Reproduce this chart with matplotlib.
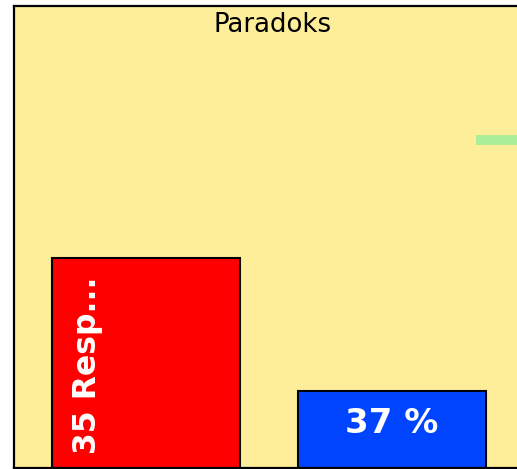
import matplotlib
matplotlib.use("Agg")
import matplotlib.pyplot as plt

categories = ["A", "B"]
values = [45.5, 16.7]
labels = ["35 Resp...", "37 %"]
bar_colors = ["#FF0000", "#0044FF"]
target_value = 71.0
title = "Paradoks"

W, H = 517, 469
fig = plt.figure(figsize=(W / 100, H / 100), dpi=100)
fig.patch.set_facecolor("white")

ax_left, ax_right, ax_top, ax_bottom = 14, 532, 6, 468
ax = fig.add_axes([ax_left / W, (H - ax_bottom) / H,
                   (ax_right - ax_left) / W, (ax_bottom - ax_top) / H])
ax.set_facecolor("#FFEE99")
for s in ax.spines.values():
    s.set_linewidth(1.6)
    s.set_color("black")

unit = 246.0
x0 = -(146 - ax_left) / unit
ax.set_xlim(x0, x0 + (ax_right - ax_left) / unit)
ax.set_ylim(0, 100)
ax.set_xticks([])
ax.set_yticks([])

xs = list(range(len(categories)))
width = 188 / unit
bars = ax.bar(xs, values, width=width, color=bar_colors, edgecolor="black",
              linewidth=1.5, zorder=2)

ax.plot([1.341, 1.7], [target_value, target_value], color="#AAEE99",
        linewidth=7.2, solid_capstyle="butt", zorder=3)

# rotated label in the first bar
ax.annotate(labels[0], xy=(xs[0] - width / 2, 0), xytext=(20, 14),
            textcoords="offset pixels", rotation=90, ha="left", va="bottom",
            color="white", fontsize=22.7, fontweight="bold", zorder=4)
# horizontal label in the second bar
ax.annotate(labels[1], xy=(xs[1], values[1]), xytext=(0, -16),
            textcoords="offset pixels", ha="center", va="top",
            color="white", fontsize=24.5, fontweight="bold", zorder=4)

ax.annotate(title, xy=(0.5, 1), xycoords="axes fraction", xytext=(0, -6),
            textcoords="offset pixels", ha="center", va="top",
            fontsize=18.7, color="black")

fig.savefig("out.png", dpi=100)
